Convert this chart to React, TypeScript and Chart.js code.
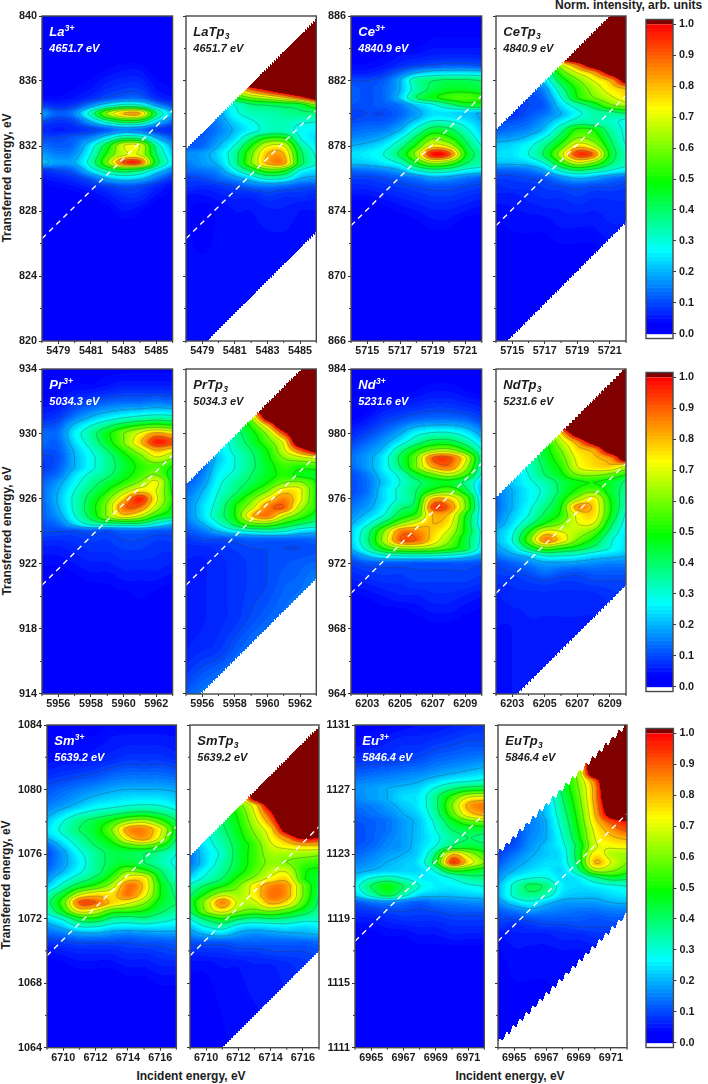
import React, { useEffect, useRef } from "react";
import { Chart, registerables } from "chart.js";

Chart.register(...registerables);

const FONT = '"Liberation Sans", Arial, sans-serif';
const TEXT = "#1c1c1c";
const FRAME = "#484848";

// ---------- data (percent of normalised intensity; 130 = saturated, above the scale) ----------
const laRows = [820,826,828,829,829.5,830,830.5,831,831.5,832,832.5,833,833.5,834,834.5,835,836,837,838,840];
const laValues = [
[1,1,1,1,1,1,1,1,1],[1,1,1,1,1,1,1,1,1],[1,1,1,2,3,5,4,2,1],[2,2,3,4,6,8,8,5,3],[3,4,5,7,9,11,10,7,4],
[5,6,8,12,20,24,22,14,8],[8,10,13,25,38,45,40,26,15],[22,18,20,34,60,92,92,45,25],[18,15,17,30,52,68,68,40,22],
[14,12,14,26,46,70,70,36,18],[10,10,12,16,26,38,36,20,11],[7,6,7,9,12,16,14,9,7],[10,8,10,20,34,44,42,24,12],
[18,12,16,34,62,80,80,40,20],[9,7,9,16,26,34,32,18,10],[4,4,5,7,10,12,12,7,5],[2,2,3,4,6,7,7,4,3],
[1,1,1,2,3,4,4,2,1],[1,1,1,1,1,1,1,1,1],[1,1,1,1,1,1,1,1,1]];

const laTpRows = [818,824,828,829,829.5,830,830.5,831,831.5,832,832.5,833,834,834.5,835,835.5,836,840];
const laTpValues = [
[4,4,4,4,4,4,4,4,4],[4,4,4,4,4,4,4,4,4],[4,3,4,5,5,6,6,5,5],[5,5,6,7,7,9,8,8,7],[8,7,8,10,13,14,13,11,10],
[9,10,13,17,24,32,30,20,18],[13,14,17,28,42,55,52,30,24],[15,18,22,36,60,82,84,45,30],[17,18,24,36,58,80,80,44,28],
[11,13,20,31,50,70,70,38,25],[10,12,17,24,38,50,50,30,24],[9,11,15,21,27,32,33,28,26],[12,14,18,28,33,34,36,38,38],
[16,18,22,30,38,40,42,44,60],[30,30,35,50,62,70,80,95,115],[50,50,60,72,92,105,118,130,130],[80,90,100,110,130,130,130,130,130],
[130,130,130,130,130,130,130,130,130]];

const ceRows = [866,872,873,874,875,875.5,876,876.5,877,877.5,878,878.5,879,880,880.5,881,881.5,882,882.5,883,884,886];
const ceValues = [
[1,1,1,1,1,1,1,1,1],[1,1,1,1,2,2,2,1,1],[1,1,2,2,3,4,4,2,2],[2,2,3,4,5,6,6,5,4],[5,5,6,7,8,9,9,8,7],
[7,7,8,9,10,11,11,10,9],[9,9,10,12,14,18,17,14,12],[13,14,16,20,30,36,34,28,25],[22,23,26,32,50,66,60,42,34],
[24,26,30,42,64,99,92,50,34],[20,22,26,36,52,74,68,44,30],[16,17,20,28,42,58,52,38,25],[13,14,15,20,32,44,42,32,22],
[9,10,10,13,18,24,24,22,19],[11,11,12,14,22,28,36,44,46],[12,11,13,22,40,48,54,56,52],[12,11,13,20,34,42,46,46,44],
[10,10,12,20,36,40,42,42,40],[6,6,8,13,20,24,25,25,24],[4,4,5,7,9,10,11,11,10],[2,2,3,4,4,5,5,5,5],[1,1,1,1,1,2,2,2,2]];

const ceTpRows = [865,871,873,875,875.5,876,876.5,877,877.5,878,878.5,879,879.5,880,880.5,881,881.5,882,882.5,883,883.5,886];
const ceTpValues = [
[2,2,2,2,2,2,2,2,2],[2,2,3,3,3,3,3,4,4],[3,4,4,4,5,5,5,6,6],[6,6,7,8,8,9,8,8,8],[7,8,8,9,10,11,10,10,9],
[9,9,10,11,16,20,18,14,12],[12,13,14,20,32,40,36,30,25],[22,22,24,32,52,70,62,42,32],[24,25,30,42,66,94,88,48,32],
[22,24,28,38,54,76,68,44,30],[17,18,22,30,44,60,56,40,28],[12,14,16,22,36,52,50,36,28],[10,11,13,18,26,34,34,32,28],
[8,8,11,14,20,28,34,36,40],[8,8,10,12,24,34,44,58,64],[8,8,10,14,30,50,60,68,76],[8,8,12,17,36,52,64,74,80],
[9,9,14,24,44,58,70,80,110],[12,14,18,30,54,70,82,108,130],[20,24,30,40,68,90,115,130,130],[40,40,50,60,115,130,130,130,130],
[130,130,130,130,130,130,130,130,130]];

const prRows = [914,919,920,921,922,923,924,924.5,925,925.5,926,926.5,927,927.5,928,928.5,929,929.5,930,930.5,931,932,933,934];
const prValues = [
[1,1,1,1,1,1,1,1,1],[1,1,1,1,2,2,2,2,1],[1,1,2,2,3,3,4,3,2],[2,2,3,4,4,5,5,5,4],[4,4,5,6,6,7,7,7,6],[6,6,7,8,8,9,9,8,8],
[10,10,10,11,10,12,12,11,11],[11,14,24,34,38,40,40,30,22],[12,18,30,44,62,78,70,52,44],[12,20,32,46,62,88,88,66,48],
[13,21,32,44,58,78,97,72,50],[13,20,30,40,50,64,76,70,48],[12,18,27,36,44,52,62,72,46],[10,14,24,32,38,46,54,60,44],
[8,12,20,28,36,44,52,56,50],[9,11,20,28,36,46,56,68,60],[11,12,21,30,40,52,66,80,74],[13,13,24,34,46,60,78,97,92],
[13,14,26,36,48,60,72,84,78],[10,12,22,30,38,46,52,55,52],[7,9,15,21,26,30,33,35,34],[4,5,8,10,12,13,13,14,13],
[2,3,4,4,5,6,6,6,6],[1,2,2,2,3,3,3,3,3]];

const prTpRows = [913,915,917,919,921,922,923,923.5,924,924.5,925,925.5,926,926.5,927,927.5,928,928.5,929,929.5,930,930.5,931,932,934];
const prTpValues = [
[16,18,18,18,18,18,18,18,18],[9,12,14,16,18,18,18,18,18],[6,7,8,11,14,16,18,18,18],[5,6,7,8,10,12,14,16,18],[5,6,7,8,9,10,12,13,16],
[6,6,7,8,9,10,11,12,13],[7,7,8,9,10,10,10,10,11],[8,10,10,11,12,12,12,12,13],[11,14,20,26,30,32,30,24,22],[13,20,30,44,58,60,50,42,36],
[15,24,36,50,78,88,70,56,46],[15,24,34,50,66,86,90,66,50],[15,22,32,44,58,74,86,72,50],[13,20,30,38,48,60,76,72,50],[12,17,28,36,42,50,60,62,50],
[10,15,26,32,40,46,52,48,46],[10,13,24,30,38,46,54,52,54],[10,13,22,30,38,48,60,66,70],[10,14,24,32,40,50,68,90,112],[10,14,24,34,44,56,72,118,130],
[10,14,24,36,46,62,92,125,130],[10,14,24,38,52,78,118,130,130],[12,16,28,42,62,110,130,130,130],[16,20,30,50,120,130,130,130,130],[130,130,130,130,130,130,130,130,130]];

const ndRows = [964,968,969,970,971,972,972.5,973,973.5,974,974.5,975,975.5,976,976.5,977,977.5,978,978.5,979,979.5,980,981,982,983,984];
const ndValues = [
[1,1,1,1,1,1,1,1,1],[1,1,1,2,2,3,3,2,1],[1,2,3,3,4,5,5,4,3],[3,4,5,6,6,7,7,6,5],[6,7,8,8,9,9,9,9,8],[9,11,11,11,11,11,11,11,10],
[13,21,28,30,30,30,28,24,18],[20,34,52,64,66,62,54,44,26],[22,38,64,90,90,76,62,44,28],[22,36,60,86,86,78,68,48,28],[19,28,42,60,72,80,74,48,24],
[16,22,30,44,54,80,78,50,24],[14,18,26,38,46,92,88,60,24],[12,16,24,32,42,80,78,58,22],[10,14,24,32,40,52,58,44,20],[10,14,22,30,38,44,46,38,22],
[10,15,24,32,46,58,66,54,28],[13,18,26,40,60,82,88,66,32],[14,18,26,42,60,90,92,72,34],[12,16,22,36,50,62,64,50,30],[9,13,18,26,36,44,44,36,24],
[7,10,14,20,28,32,32,27,18],[3,5,8,10,12,13,13,12,9],[1,2,4,5,6,7,7,6,5],[1,1,1,2,3,4,4,3,2],[1,1,1,1,1,2,2,1,1]];

const ndTpRows = [962,968,970,971,971.5,972,972.5,973,973.5,974,974.5,975,975.5,976,976.5,977,977.5,978,978.5,979,979.5,980,980.5,984];
const ndTpValues = [
[5,5,5,5,5,5,5,5,5],[5,5,6,6,6,6,6,6,7],[6,7,7,7,7,7,7,8,9],[8,8,9,10,9,9,10,10,10],[9,10,11,14,12,11,12,12,12],[10,12,15,18,18,17,16,15,15],
[14,18,22,30,30,28,24,22,20],[18,25,42,58,52,46,38,30,24],[20,30,56,86,76,60,48,32,24],[20,28,48,72,70,66,58,38,24],[16,24,36,50,60,70,70,44,26],
[14,22,30,42,52,72,76,50,28],[13,20,28,38,50,84,78,52,32],[13,20,26,34,46,64,74,50,34],[14,20,26,32,42,52,58,46,36],[15,22,28,34,42,48,50,46,38],
[16,22,30,40,48,60,62,58,50],[18,24,32,42,52,70,76,78,68],[20,26,34,44,56,72,78,84,116],[22,28,36,46,60,76,82,112,130],[24,30,38,48,66,84,110,130,130],
[26,32,40,52,76,112,130,130,130],[30,36,44,60,100,130,130,130,130],[130,130,130,130,130,130,130,130,130]];

const smRows = [1064,1067,1068,1069,1070,1070.5,1071,1071.5,1072,1072.5,1073,1073.5,1074,1074.5,1075,1075.5,1076,1076.5,1077,1077.5,1078,1078.5,1079,1080,1081,1082,1084];
const smValues = [
[1,1,1,1,1,1,1,1,1],[1,1,1,1,1,2,2,2,2],[1,1,2,2,2,3,3,4,4],[2,3,4,4,4,5,5,6,6],[5,6,7,7,7,8,8,9,10],[8,9,10,10,10,10,11,11,12],
[12,14,17,18,16,15,16,17,17],[17,22,30,30,26,25,26,25,24],[24,32,46,48,38,36,38,34,30],[32,50,74,70,56,54,50,42,36],[36,56,90,90,78,72,62,46,40],
[32,46,68,76,76,88,74,50,38],[22,34,46,54,66,88,78,50,36],[17,26,34,42,54,74,74,46,32],[13,20,28,36,46,58,52,40,30],[11,18,26,36,42,44,40,34,28],
[10,18,28,36,42,42,40,36,30],[12,22,32,40,46,54,58,50,34],[20,28,36,44,54,76,84,68,40],[24,32,40,46,60,84,86,72,44],[22,30,38,44,52,64,68,56,40],
[18,24,30,34,38,42,44,40,34],[15,18,22,26,28,30,31,30,26],[11,13,15,17,19,20,20,20,19],[7,8,9,10,12,13,13,13,12],[4,5,5,6,7,8,8,8,7],[2,2,3,3,4,4,4,4,4]];

const smTpRows = [1062,1069,1070,1070.5,1071,1071.5,1072,1072.5,1073,1073.5,1074,1074.5,1075,1075.5,1076,1076.5,1077,1077.5,1078,1078.5,1079,1079.5,1084];
const smTpValues = [
[2,2,3,4,4,5,5,6,7],[4,4,5,5,6,6,7,8,9],[8,8,8,9,9,10,10,10,11],[11,11,11,12,12,12,12,12,13],[16,20,22,18,16,17,18,19,20],[22,30,34,26,24,25,26,24,26],
[30,42,50,42,38,40,38,34,32],[40,62,74,62,58,62,56,46,36],[44,64,86,68,68,82,76,56,38],[38,52,66,64,74,88,84,60,40],[32,42,50,60,74,86,84,60,42],
[24,32,40,52,62,72,76,52,44],[18,28,36,46,56,66,68,52,48],[14,24,34,44,54,62,60,56,54],[14,24,32,44,54,64,64,64,62],[16,26,34,44,54,68,74,78,78],
[20,28,36,46,58,72,86,104,100],[24,30,38,48,62,76,110,130,130],[26,32,40,50,66,86,120,130,130],[26,34,42,52,70,96,130,130,130],[28,36,44,56,74,112,130,130,130],
[30,38,46,58,110,130,130,130,130],[130,130,130,130,130,130,130,130,130]];

const euRows = [1111,1115,1117,1118,1119,1120,1120.5,1121,1121.5,1122,1122.5,1123,1123.5,1124,1124.5,1125,1125.5,1126,1126.5,1127,1127.5,1128,1129,1130,1131];
const euValues = [
[1,1,1,1,1,1,1,1,1],[1,1,1,1,1,1,2,2,2],[2,2,2,2,3,3,3,3,3],[3,3,4,4,5,5,6,6,6],[6,6,7,8,8,8,9,9,9],[11,14,16,14,12,14,15,16,17],
[22,34,44,34,24,22,22,23,24],[26,40,48,40,30,26,26,28,30],[22,30,34,30,26,26,30,36,38],[18,20,22,23,24,32,52,50,44],[15,17,20,22,26,46,94,76,60],
[13,15,18,20,24,40,78,66,52],[11,13,16,18,23,30,40,44,42],[10,12,15,18,22,28,36,40,38],[10,12,14,18,22,30,40,44,44],[11,12,14,18,22,32,46,56,60],
[12,14,16,20,24,36,56,76,84],[14,15,18,22,26,38,60,82,88],[16,18,20,24,26,38,54,70,74],[17,18,20,22,24,32,40,46,48],[15,16,17,18,20,24,28,30,32],
[12,13,14,15,16,18,20,22,24],[7,8,8,9,10,12,13,14,15],[4,5,6,7,7,8,9,10,10],[2,3,3,4,5,5,6,7,8]];

const euTpRows = [1111,1116,1118,1118.5,1119,1119.5,1120,1120.5,1121,1121.5,1122,1122.5,1123,1123.5,1124,1124.5,1125,1125.5,1126,1126.5,1127,1127.5,1128,1129,1131];
const euTpValues = [
[3,3,3,3,4,4,4,4,4],[3,4,4,4,4,4,4,5,5],[5,6,6,6,7,7,8,8,9],[8,7,8,9,9,10,10,10,10],[10,10,11,12,12,12,11,12,12],[12,15,18,16,15,14,14,15,15],
[16,24,28,22,18,18,18,20,21],[20,32,38,34,24,22,22,24,26],[20,32,42,38,26,24,26,28,30],[17,26,30,30,24,26,36,44,42],[14,20,24,26,24,38,64,62,54],
[11,17,21,24,26,44,80,70,60],[9,14,19,22,26,46,74,66,64],[8,11,17,22,28,44,68,72,74],[8,10,16,20,30,48,70,78,82],[8,10,15,20,32,50,72,84,92],
[8,10,15,20,34,52,76,92,100],[8,10,15,22,36,54,80,110,130],[8,10,15,22,38,56,82,115,130],[8,10,15,24,40,58,84,120,130],[8,10,16,26,42,60,84,125,130],
[8,10,16,28,44,62,88,130,130],[8,10,16,30,46,64,120,130,130],[8,10,16,32,50,68,130,130,130],[130,130,130,130,130,130,130,130,130]];

const colorbarTicks = [0, 0.1, 0.2, 0.3, 0.4, 0.5, 0.6, 0.7, 0.8, 0.9, 1.0];

type Panel = {
  element: string; label: string; sub: string; energy: string; white: boolean;
  xMin: number; yMin: number; rows: number[]; values: number[][];
  elastic: [number, number]; mask?: { low: number; high: number; stair: number };
};

const panels: Panel[] = [
  { element: "La", label: "La", sub: "3+", energy: "4651.7 eV", white: true, xMin: 5478, yMin: 820, rows: laRows, values: laValues, elastic: [826.3, 834.2] },
  { element: "La", label: "LaTp", sub: "3", energy: "4651.7 eV", white: false, xMin: 5478, yMin: 820, rows: laTpRows, values: laTpValues, elastic: [826.3, 834.2], mask: { low: 818.7, high: 831.8, stair: 0.12 } },
  { element: "Ce", label: "Ce", sub: "3+", energy: "4840.9 eV", white: true, xMin: 5714, yMin: 866, rows: ceRows, values: ceValues, elastic: [873.1, 881.1] },
  { element: "Ce", label: "CeTp", sub: "3", energy: "4840.9 eV", white: false, xMin: 5714, yMin: 866, rows: ceTpRows, values: ceTpValues, elastic: [873.1, 881.1], mask: { low: 865.3, high: 879, stair: 0.15 } },
  { element: "Pr", label: "Pr", sub: "3+", energy: "5034.3 eV", white: true, xMin: 5955, yMin: 914, rows: prRows, values: prValues, elastic: [920.7, 928.7] },
  { element: "Pr", label: "PrTp", sub: "3", energy: "5034.3 eV", white: false, xMin: 5955, yMin: 914, rows: prTpRows, values: prTpValues, elastic: [920.7, 928.7], mask: { low: 913.1, high: 926.9, stair: 0.15 } },
  { element: "Nd", label: "Nd", sub: "3+", energy: "5231.6 eV", white: true, xMin: 6202, yMin: 964, rows: ndRows, values: ndValues, elastic: [970.2, 978.2] },
  { element: "Nd", label: "NdTp", sub: "3", energy: "5231.6 eV", white: false, xMin: 6202, yMin: 964, rows: ndTpRows, values: ndTpValues, elastic: [970.2, 978.2], mask: { low: 962.7, high: 976.1, stair: 0.18 } },
  { element: "Sm", label: "Sm", sub: "3+", energy: "5639.2 eV", white: true, xMin: 6709, yMin: 1064, rows: smRows, values: smValues, elastic: [1069.7, 1077.7] },
  { element: "Sm", label: "SmTp", sub: "3", energy: "5639.2 eV", white: false, xMin: 6709, yMin: 1064, rows: smTpRows, values: smTpValues, elastic: [1069.7, 1077.7], mask: { low: 1062, high: 1075.9, stair: 0.12 } },
  { element: "Eu", label: "Eu", sub: "3+", energy: "5846.4 eV", white: true, xMin: 6964, yMin: 1111, rows: euRows, values: euValues, elastic: [1117.6, 1125.5] },
  { element: "Eu", label: "EuTp", sub: "3", energy: "5846.4 eV", white: false, xMin: 6964, yMin: 1111, rows: euTpRows, values: euTpValues, elastic: [1117.6, 1125.5], mask: { low: 1111.3, high: 1123.05, stair: 0.41 } },
];

const rowTop = [15.7, 369.3, 725];
const rowBottom = [340.7, 694.3, 1047.7];
const rowColumns = [
  [[41.7, 172.3], [185.7, 316], [351, 481.7], [496, 626]],
  [[41.7, 172.3], [185.7, 316], [351, 481.7], [496, 626]],
  [[47.3, 176.7], [190.3, 319.3], [354.7, 484], [497.7, 626.7]],
];
const barColumn = [[645.7, 672.7], [645.7, 672.7], [646.3, 673.7]];
const barBottom = [341.7, 695, 1051];

// ---------- colour ----------
const LEVEL = 0.0125;
const stops = [[0.035, 0, 0, 255], [0.27, 0, 255, 255], [0.49, 0, 255, 0], [0.73, 255, 255, 0], [1, 255, 0, 0]];
function colormap(v: number): [number, number, number] {
  if (v >= 1) return [128, 0, 0];
  const q = (Math.floor(v / LEVEL) + 0.5) * LEVEL;
  if (q <= stops[0][0]) return [0, 0, 255];
  for (let i = 1; i < stops.length; i++) {
    if (q <= stops[i][0]) {
      const a = stops[i - 1], b = stops[i];
      const t = (q - a[0]) / (b[0] - a[0]);
      return [a[1] + t * (b[1] - a[1]), a[2] + t * (b[2] - a[2]), a[3] + t * (b[3] - a[3])];
    }
  }
  return [255, 0, 0];
}

// ---------- cubics used to resolve the contour field between table nodes ----------
function cubic(xs: number[], ys: number[], x: number, limited: boolean): number {
  const n = xs.length;
  if (x <= xs[0]) return ys[0];
  if (x >= xs[n - 1]) return ys[n - 1];
  let i = 0;
  while (i < n - 2 && x > xs[i + 1]) i++;
  const slope = (k: number) => (ys[k + 1] - ys[k]) / (xs[k + 1] - xs[k]);
  const saturated = ys[Math.max(0, i - 1)] > 1 || ys[i] > 1 || ys[i + 1] > 1 || ys[Math.min(n - 1, i + 2)] > 1;
  const mono = limited || saturated;
  const tan = (k: number) => {
    if (k === 0) return slope(0);
    if (k === n - 1) return slope(n - 2);
    const d0 = slope(k - 1), d1 = slope(k);
    if (!mono) return (d0 + d1) / 2;
    if (d0 * d1 <= 0) return 0;
    const h0 = xs[k] - xs[k - 1], h1 = xs[k + 1] - xs[k];
    const w1 = 2 * h1 + h0, w2 = h1 + 2 * h0;
    return (w1 + w2) / (w1 / d0 + w2 / d1);
  };
  const h = xs[i + 1] - xs[i];
  const t = (x - xs[i]) / h;
  const t2 = t * t, t3 = t2 * t;
  const v = (2 * t3 - 3 * t2 + 1) * ys[i] + (t3 - 2 * t2 + t) * h * tan(i) + (-2 * t3 + 3 * t2) * ys[i + 1] + (t3 - t2) * h * tan(i + 1);
  if (!saturated && v >= 1) return 0.995;
  return v < 0 ? 0 : v;
}

function heatPlugin(p: Panel) {
  return {
    id: "heat",
    beforeDatasetsDraw(chart: any) {
      const { left, top, right, bottom } = chart.chartArea;
      const W = Math.ceil(right - left), H = Math.ceil(bottom - top);
      const xs = chart.scales.x, ys = chart.scales.y;
      const cols = p.values[0].map((_, i) => p.xMin + i);
      const colArrays = cols.map((_, c) => p.values.map((r) => r[c] / 100));
      const field = new Float32Array(W * H);
      const inside = new Uint8Array(W * H);
      const off = document.createElement("canvas");
      off.width = W; off.height = H;
      const oc = off.getContext("2d")!;
      const img = oc.createImageData(W, H);
      const xv = Array.from({ length: W }, (_, i) => xs.getValueForPixel(left + i + 0.5));
      for (let j = 0; j < H; j++) {
        const y = ys.getValueForPixel(top + j + 0.5);
        const rowVals = colArrays.map((a) => cubic(p.rows, a, y, true));
        for (let i = 0; i < W; i++) {
          const x = xv[i];
          const v = cubic(cols, rowVals, x, false);
          const k = j * W + i;
          field[k] = v;
          let ok = true;
          if (p.mask) {
            const s = p.mask.stair;
            const dx = x - p.xMin + 0.35 * s * Math.sin((2 * Math.PI * (x - p.xMin)) / s);
            ok = y > p.mask.low + dx && y < p.mask.high + dx;
          }
          inside[k] = ok ? 1 : 0;
          if (ok) {
            const c = colormap(v);
            img.data[k * 4] = c[0]; img.data[k * 4 + 1] = c[1]; img.data[k * 4 + 2] = c[2]; img.data[k * 4 + 3] = 255;
          }
        }
      }
      oc.putImageData(img, 0, 0);
      oc.strokeStyle = "rgba(60,70,70,0.5)";
      oc.lineWidth = 0.7;
      for (let L = 1; L <= 9; L++) {
        const lv = L / 10;
        oc.beginPath();
        for (let j = 0; j < H - 1; j++) {
          for (let i = 0; i < W - 1; i++) {
            const k = j * W + i;
            if (!inside[k] || !inside[k + 1] || !inside[k + W] || !inside[k + W + 1]) continue;
            const a = field[k], b = field[k + 1], c = field[k + W + 1], d = field[k + W];
            const pts: [number, number][] = [];
            if ((a < lv) !== (b < lv)) pts.push([i + (lv - a) / (b - a) + 0.5, j + 0.5]);
            if ((b < lv) !== (c < lv)) pts.push([i + 1.5, j + (lv - b) / (c - b) + 0.5]);
            if ((d < lv) !== (c < lv)) pts.push([i + (lv - d) / (c - d) + 0.5, j + 1.5]);
            if ((a < lv) !== (d < lv)) pts.push([i + 0.5, j + (lv - a) / (d - a) + 0.5]);
            for (let s = 0; s + 1 < pts.length; s += 2) {
              oc.moveTo(pts[s][0], pts[s][1]);
              oc.lineTo(pts[s + 1][0], pts[s + 1][1]);
            }
          }
        }
        oc.stroke();
      }
      const ctx = chart.ctx;
      ctx.save();
      ctx.beginPath();
      ctx.rect(left, top, right - left, bottom - top);
      ctx.clip();
      ctx.filter = "blur(0.4px)";
      ctx.drawImage(off, left, top);
      ctx.restore();
    },
    afterDatasetsDraw(chart: any) {
      const { left, top, bottom } = chart.chartArea;
      const ctx = chart.ctx;
      const x = left + 7.3;
      const base = top + 19.5;
      ctx.save();
      ctx.fillStyle = p.white ? "#ffffff" : TEXT;
      ctx.textBaseline = "alphabetic";
      ctx.textAlign = "left";
      ctx.font = `italic bold 13px ${FONT}`;
      ctx.fillText(p.label, x, base);
      const w = ctx.measureText(p.label).width;
      ctx.font = `italic bold 8.5px ${FONT}`;
      ctx.fillText(p.sub, x + w + 0.3, p.white ? base - 5 : base + 3);
      ctx.font = `italic bold 11px ${FONT}`;
      ctx.fillText(p.energy, x, top + 36);
      // shorter minor ticks
      ctx.strokeStyle = "#333";
      ctx.lineWidth = 1;
      ctx.beginPath();
      chart.scales.x.ticks.forEach((t: any) => {
        if ((t.value - p.xMin) % 2 === 0) {
          const px = chart.scales.x.getPixelForValue(t.value);
          ctx.moveTo(px, bottom);
          ctx.lineTo(px, bottom + 2);
        }
      });
      chart.scales.y.ticks.forEach((t: any) => {
        if ((t.value - p.yMin) % 4 !== 0) {
          const py = chart.scales.y.getPixelForValue(t.value);
          ctx.moveTo(left, py);
          ctx.lineTo(left - 2, py);
        }
      });
      ctx.stroke();
      ctx.restore();
    },
  };
}

const framePlugin = {
  id: "frame",
  afterDraw(chart: any) {
    const { left, top, right, bottom } = chart.chartArea;
    const ctx = chart.ctx;
    ctx.save();
    ctx.strokeStyle = FRAME;
    ctx.lineWidth = 1.4;
    ctx.strokeRect(left, top, right - left, bottom - top);
    ctx.restore();
  },
};

const barPlugin = {
  id: "bar",
  beforeDatasetsDraw(chart: any) {
    const { left, right, top, bottom } = chart.chartArea;
    const ys = chart.scales.y;
    const ctx = chart.ctx;
    ctx.save();
    ctx.fillStyle = "#fff";
    ctx.fillRect(left, top, right - left, bottom - top);
    const y1 = ys.getPixelForValue(1);
    ctx.fillStyle = "rgb(128,0,0)";
    ctx.fillRect(left, top, right - left, y1 - top);
    const n = Math.round(1 / LEVEL);
    for (let k = 0; k < n; k++) {
      const c = colormap((k + 0.5) * LEVEL);
      ctx.fillStyle = `rgb(${c[0]},${c[1]},${c[2]})`;
      const a = ys.getPixelForValue(k * LEVEL), b = ys.getPixelForValue((k + 1) * LEVEL);
      ctx.fillRect(left, b, right - left, a - b + 0.6);
    }
    ctx.restore();
  },
};

const tickFont = { family: FONT, size: 10.8, weight: "bold" as const };

function makePanelChart(canvas: HTMLCanvasElement, p: Panel, box: number[], yTop: number, yBottom: number, labelled: boolean) {
  const L = box[0] - 38, T = yTop - 10, Wd = box[1] - L + 4, Hg = yBottom - T + 18;
  canvas.width = Math.ceil(Wd); canvas.height = Math.ceil(Hg);
  canvas.style.cssText = `position:absolute;left:${L}px;top:${T}px;width:${canvas.width}px;height:${canvas.height}px`;
  const xMax = p.xMin + 8, yMax = p.yMin + 20;
  const majorX = (v: number) => (v - p.xMin) % 2 === 1;
  const majorY = (v: number) => (v - p.yMin) % 4 === 0;
  return new Chart(canvas, {
    type: "scatter",
    data: {
      datasets: [{
        data: [{ x: p.xMin, y: p.elastic[0] }, { x: xMax, y: p.elastic[1] }],
        showLine: true, borderColor: "#ffffff", borderWidth: 1.4, borderDash: [5.5, 4.5], pointRadius: 0, fill: false,
      }],
    },
    plugins: [heatPlugin(p), framePlugin],
    options: {
      responsive: false, animation: false,
      layout: { padding: { left: 0, top: 10, right: canvas.width - (box[1] - L), bottom: 0 } },
      plugins: { legend: { display: false }, tooltip: { enabled: false } },
      scales: {
        x: {
          type: "linear", min: p.xMin, max: xMax,
          afterFit: (s: any) => { s.height = canvas.height - 10 - (yBottom - yTop); },
          grid: { drawOnChartArea: false, tickLength: 3, lineWidth: 1, tickColor: (c: any) => (majorX(c.tick.value) ? "#333" : "rgba(0,0,0,0)") }, border: { display: false },
          ticks: { stepSize: 1, autoSkip: false, maxRotation: 0, font: tickFont, color: TEXT, padding: 1,
            callback: (v: any) => (majorX(v) ? String(v) : "") },
        },
        y: {
          type: "linear", min: p.yMin, max: yMax,
          afterFit: (s: any) => { s.width = 38; },
          grid: { drawOnChartArea: false, tickLength: 3, lineWidth: 1, tickColor: (c: any) => (majorY(c.tick.value) ? "#333" : "rgba(0,0,0,0)") }, border: { display: false },
          ticks: { stepSize: 2, autoSkip: false, font: tickFont, color: TEXT, padding: 2,
            callback: (v: any) => (labelled && majorY(v) ? String(v) : "") },
        },
      },
    } as any,
  });
}

function makeBarChart(canvas: HTMLCanvasElement, box: number[], yTop: number, yBottom: number) {
  const L = box[0] - 2, T = yTop - 6, Wd = 708 - L, Hg = yBottom - T + 6;
  canvas.width = Math.ceil(Wd); canvas.height = Math.ceil(Hg);
  canvas.style.cssText = `position:absolute;left:${L}px;top:${T}px;width:${canvas.width}px;height:${canvas.height}px`;
  const pad = 0.016;
  return new Chart(canvas, {
    type: "scatter",
    data: { datasets: [{ data: colorbarTicks.map((t) => ({ x: 0, y: t })), pointRadius: 0 }] },
    plugins: [barPlugin, framePlugin],
    options: {
      responsive: false, animation: false,
      layout: { padding: { left: 2, top: 6, right: 0, bottom: canvas.height - 6 - (yBottom - yTop) } },
      plugins: { legend: { display: false }, tooltip: { enabled: false } },
      scales: {
        x: { type: "linear", display: false, min: 0, max: 1 },
        y: {
          type: "linear", position: "right", min: -pad, max: 1 + pad,
          afterFit: (s: any) => { s.width = canvas.width - 2 - (box[1] - box[0]); },
          afterBuildTicks: (s: any) => { s.ticks = colorbarTicks.map((value) => ({ value })); },
          grid: { drawOnChartArea: false, tickLength: 3, color: "#333", lineWidth: 1 }, border: { display: false },
          ticks: { autoSkip: false, font: tickFont, color: TEXT, padding: 3, callback: (v: any) => Number(v).toFixed(1) },
        },
      },
    } as any,
  });
}

const titleStyle: React.CSSProperties = {
  position: "absolute", fontFamily: FONT, fontWeight: "bold", fontSize: 12, color: TEXT, whiteSpace: "nowrap", lineHeight: "14px",
};

function YTitle({ x, y }: { x: number; y: number }) {
  return (
    <div style={{ ...titleStyle, left: x, top: y, transform: "translate(-50%,-50%) rotate(-90deg)" }}>Transferred energy, eV</div>
  );
}
function XTitle({ x, y }: { x: number; y: number }) {
  return <div style={{ ...titleStyle, left: x, top: y, transform: "translate(-50%,-50%)" }}>Incident energy, eV</div>;
}

export default function App() {
  const host = useRef<HTMLDivElement>(null);
  useEffect(() => {
    const charts: Chart[] = [];
    const el = host.current!;
    const made: HTMLCanvasElement[] = [];
    const add = () => {
      const c = document.createElement("canvas");
      el.appendChild(c);
      made.push(c);
      return c;
    };
    const order = [
      [0, 1, 2, 3],
      [4, 5, 6, 7],
      [8, 9, 10, 11],
    ];
    order.forEach((row, r) => {
      row.forEach((pi, c) => {
        charts.push(makePanelChart(add(), panels[pi], rowColumns[r][c], rowTop[r], rowBottom[r], c % 2 === 0));
      });
      charts.push(makeBarChart(add(), barColumn[r], rowTop[r], barBottom[r]));
    });
    return () => {
      charts.forEach((c) => c.destroy());
      made.forEach((c) => c.remove());
    };
  }, []);
  return (
    <div ref={host} style={{ position: "absolute", left: 0, top: 0, width: 708, height: 1084, overflow: "hidden", background: "#fff", filter: "blur(0.3px)" }}>
      <div style={{ ...titleStyle, left: 555, top: -2 }}>Norm. intensity, arb. units</div>
      <YTitle x={7} y={178} />
      <YTitle x={7} y={531} />
      <YTitle x={6} y={885} />
      <XTitle x={191} y={1076} />
      <XTitle x={510} y={1076} />
    </div>
  );
}
